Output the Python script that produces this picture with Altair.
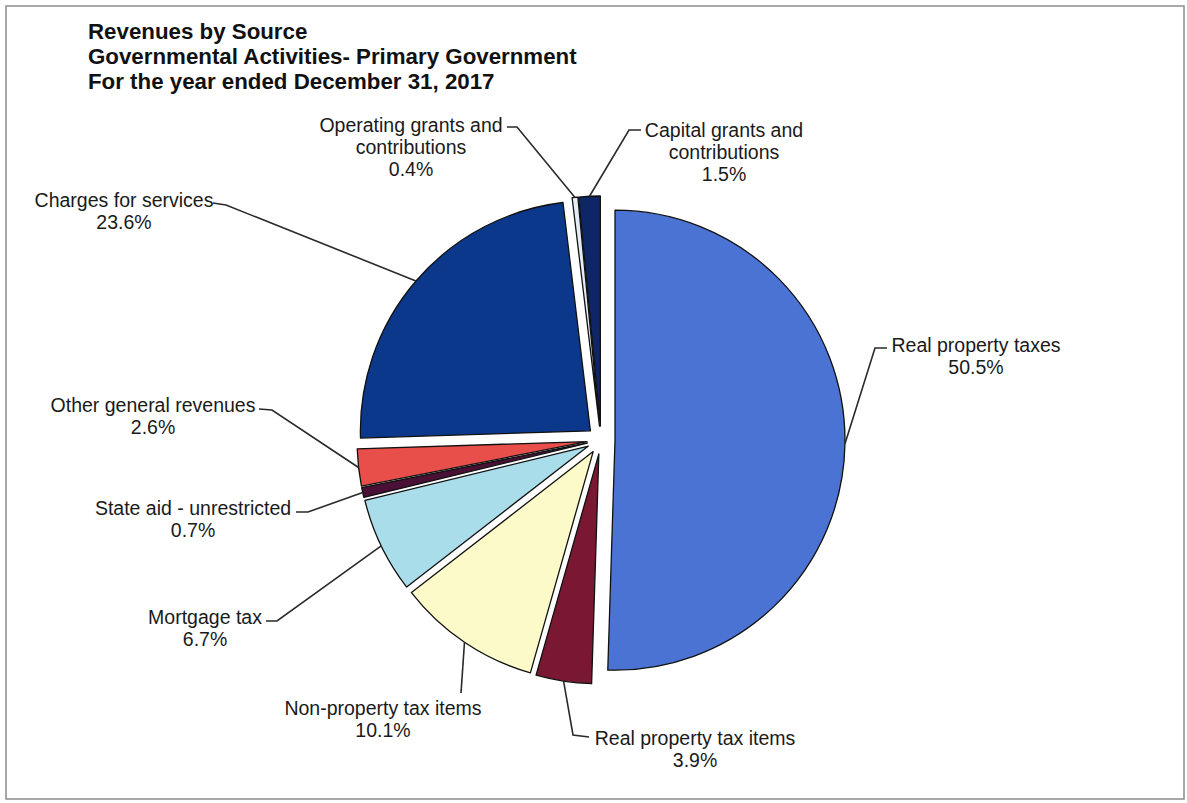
import math
import altair as alt
import pandas as pd

# ---------------- data ----------------
categories = [
    "Real property taxes",
    "Real property tax items",
    "Non-property tax items",
    "Mortgage tax",
    "State aid - unrestricted",
    "Other general revenues",
    "Charges for services",
    "Operating grants and contributions",
    "Capital grants and contributions",
]
shares = [50.5, 3.9, 10.1, 6.7, 0.7, 2.6, 23.6, 0.4, 1.5]
label_lines = [
    ["Real property taxes"],
    ["Real property tax items"],
    ["Non-property tax items"],
    ["Mortgage tax"],
    ["State aid - unrestricted"],
    ["Other general revenues"],
    ["Charges for services"],
    ["Operating grants and", "contributions"],
    ["Capital grants and", "contributions"],
]
colors = ["#4a73d3", "#7a1733", "#fcfac8", "#a9dde9", "#4a1035",
          "#e84f4b", "#0b388b", "#e4ecf7", "#0e2566"]
title_lines = [
    "Revenues by Source",
    "Governmental Activities- Primary Government",
    "For the year ended December 31, 2017",
]

# ---------------- layout (styling, not data) ----------------
W, H = 1187, 803
CX, CY = 601, 440
R = 230
EXPLODE = 14
FS = 19.5
LH = 22
TFS = 22.3
# leader elbow, leader end, label centre (x, first-line y) as offsets from the pie centre
elbows = [(274, -92), (-28, 295), (-140, 253), (-324, 181), (-293, 72), (-329, -30),
          (-375, -235), (-84, -313), (28, -310)]
ends = [(286, -92), (-12, 297), (-140, 253), (-335, 181), (-305, 72), (-342, -31),
        (-388, -237), (-94, -313), (40, -310)]
text_pos = [(375, -95), (94, 298), (-218, 268), (-396, 177), (-408, 68), (-448, -35),
            (-477, -240), (-190, -315), (123, -310)]

# ---------------- derived tables ----------------
rows, leader_rows, label_rows = [], [], []
cum = 0.0
for i, (cat, s) in enumerate(zip(categories, shares)):
    t0 = cum / 100 * 2 * math.pi
    cum += s
    t1 = cum / 100 * 2 * math.pi
    mid = (t0 + t1) / 2
    px = CX + EXPLODE * math.sin(mid)
    py = CY - EXPLODE * math.cos(mid)
    rows.append(dict(cat=cat, share=s, t0=t0, t1=t1, px=px, py=py))
    ax = px + R * math.sin(mid)
    ay = py - R * math.cos(mid)
    pts = [(ax, ay), (CX + elbows[i][0], CY + elbows[i][1]), (CX + ends[i][0], CY + ends[i][1])]
    for k, (x, y) in enumerate(pts):
        leader_rows.append(dict(cat=cat, k=k, x=x, y=y))
    label_rows.append(dict(
        cat=cat,
        text="\n".join(label_lines[i] + [f"{s:.1f}%"]),
        x=CX + text_pos[i][0],
        y=CY + text_pos[i][1] - 0.43 * FS,
    ))

pie_df = pd.DataFrame(rows)
leader_df = pd.DataFrame(leader_rows)
label_df = pd.DataFrame(label_rows)

color_scale = alt.Scale(domain=categories, range=colors)

pie = alt.Chart(pie_df).mark_arc(
    outerRadius=R, stroke="#111111", strokeWidth=1.3, strokeJoin="round"
).encode(
    theta=alt.Theta("t0:Q", scale=None),
    theta2="t1:Q",
    x=alt.X("px:Q", scale=None),
    y=alt.Y("py:Q", scale=None),
    color=alt.Color("cat:N", scale=color_scale, legend=None),
)

leaders = alt.Chart(leader_df).mark_line(color="#2a2a2a", strokeWidth=1.6).encode(
    x=alt.X("x:Q", scale=None),
    y=alt.Y("y:Q", scale=None),
    detail="cat:N",
    order="k:Q",
)

labels = alt.Chart(label_df).mark_text(
    font="Liberation Sans", fontSize=FS, align="center", baseline="top",
    lineBreak="\n", lineHeight=LH, color="#1a1a1a",
).encode(
    x=alt.X("x:Q", scale=None),
    y=alt.Y("y:Q", scale=None),
    text="text:N",
)

title_df = pd.DataFrame({"text": ["\n".join(title_lines)]})
title = alt.Chart(title_df).mark_text(
    font="Liberation Sans", fontSize=TFS, fontWeight="bold", align="left",
    baseline="top", lineBreak="\n", lineHeight=25, color="#111111",
).encode(
    x=alt.value(88),
    y=alt.value(31 - 0.43 * TFS),
    text="text:N",
)

frame = alt.Chart(pd.DataFrame({"a": [0]})).mark_rect(
    fill="transparent", stroke="#8c8c8c", strokeWidth=1.5
).encode(
    x=alt.value(6), x2=alt.value(1184), y=alt.value(6), y2=alt.value(799)
)

chart = alt.layer(frame, pie, leaders, labels, title).properties(
    width=W, height=H, padding=0, autosize=alt.AutoSizeParams(type="none"),
    background="white",
).configure_view(stroke=None)

chart.save("out.html", embed_options={"renderer": "svg", "actions": False})
